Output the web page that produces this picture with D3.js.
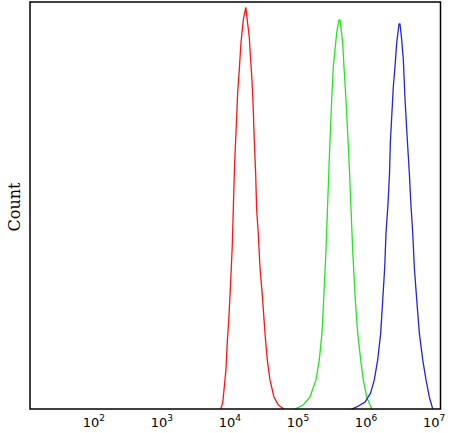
<!DOCTYPE html>
<html>
<head>
<meta charset="utf-8">
<script src="https://cdn.jsdelivr.net/npm/d3@7"></script>
<style>
  body { margin: 0; background: #fff; }
  svg { display: block; }
</style>
</head>
<body>
<svg width="451" height="433"></svg>
<script>
// fluorescence intensity (x) and event count (y)
let redX = [7300, 7820, 8170, 8730, 9120, 9660, 10230, 10800, 11250, 11720, 12550, 12980, 13710, 14520, 15700, 17020,
  17180, 17950, 19220, 20150, 21080, 22030, 22760, 23860, 24690, 26080, 27610, 30270, 32730, 35390, 38730, 44360, 51290, 62230];
let redY = [0, 2.9, 9.3, 19.2, 32.4, 45.2, 61.9, 79.6, 100.2, 120.9, 143.5, 155.3, 166.6, 179.9, 191.2, 197.1,
  197.1, 191.2, 182.8, 171.5, 161.7, 146.9, 132.2, 116.0, 97.8, 86.5, 69.8, 53.6, 37.3, 24.1, 14.3, 5.9, 2.0, 0];

let greenX = [90400, 119700, 150000, 184000, 205600, 225300, 238700, 258200, 273500, 285800, 298700, 313100, 330500, 370800, 401000,
  414700, 454200, 474700, 508000, 538000, 568000, 597500, 636800, 696000, 755000, 835600, 912600, 1023000, 1145000, 1213000];
let greenY = [0, 2.0, 5.9, 14.3, 24.1, 37.3, 53.6, 78.1, 101.2, 118.9, 135.6, 151.8, 168.1, 184.8, 191.2,
  191.2, 179.9, 168.1, 151.8, 135.6, 118.9, 101.2, 78.1, 53.6, 37.3, 24.1, 14.3, 5.9, 2.0, 0];

let blueX = [616600, 730000, 966000, 1172000, 1324000, 1486000, 1644000, 1762000, 1885000, 1969000, 2110000, 2218000, 2278000, 2387000,
  2519000, 2667000, 2825000, 3055000, 3162000, 3350000, 3540000, 3750000, 4050000, 4335000, 4560000, 4865000, 5130000, 5570000,
  6085000, 6825000, 7625000, 8530000, 9570000];
let blueY = [0, 1.0, 3.4, 7.9, 14.3, 24.1, 37.3, 53.6, 69.8, 86.5, 101.2, 116.0, 130.7, 143.5,
  158.2, 168.1, 179.9, 189.2, 189.2, 181.3, 171.5, 151.8, 132.2, 116.0, 101.2, 86.5, 69.8, 53.6,
  37.3, 24.1, 14.3, 5.9, 0];

let tickExp = [2, 3, 4, 5, 6, 7];
let tickVals = [1e2, 1e3, 1e4, 1e5, 1e6, 1e7];

let svg = d3.select("svg");

let x = d3.scaleLog()
  .domain([11.5, 1.245e7])
  .range([30, 440.5]);
let y = d3.scaleLinear()
  .domain([0, 200])
  .range([409, 2]);

let line = d3.line()
  .x(d => x(d[0]))
  .y(d => y(d[1]));

let series = [
  { xs: redX, ys: redY, color: "#ff1414" },
  { xs: greenX, ys: greenY, color: "#22e622" },
  { xs: blueX, ys: blueY, color: "#2424dc" }
];

svg.append("g")
  .selectAll("path")
  .data(series)
  .enter().append("path")
    .attr("fill", "none")
    .attr("stroke", d => d.color)
    .attr("stroke-width", 1.3)
    .attr("stroke-linejoin", "round")
    .attr("d", d => line(d.xs.map((v, i) => [v, d.ys[i]])));

// frame
svg.append("rect")
  .attr("x", x.range()[0])
  .attr("y", y.range()[1])
  .attr("width", x.range()[1] - x.range()[0])
  .attr("height", y.range()[0] - y.range()[1])
  .attr("fill", "none")
  .attr("stroke", "#000")
  .attr("stroke-width", 1.5);

// x tick labels, 10 with superscript exponent
let labels = svg.append("g")
  .attr("font-family", "DejaVu Sans, Verdana, sans-serif")
  .attr("font-size", 13)
  .attr("fill", "#000")
  .selectAll("text")
  .data(tickVals)
  .enter().append("text")
    .attr("x", d => x(d))
    .attr("y", 427)
    .attr("text-anchor", "middle");
labels.append("tspan").text("10");
labels.append("tspan")
  .attr("dy", -6)
  .attr("font-size", 9)
  .text((d, i) => tickExp[i]);

// y axis title
svg.append("text")
  .attr("transform", "translate(20,207) rotate(-90)")
  .attr("text-anchor", "middle")
  .attr("font-family", "DejaVu Serif, Liberation Serif, serif")
  .attr("font-size", 16)
  .attr("fill", "#000")
  .text("Count");
</script>
</body>
</html>
